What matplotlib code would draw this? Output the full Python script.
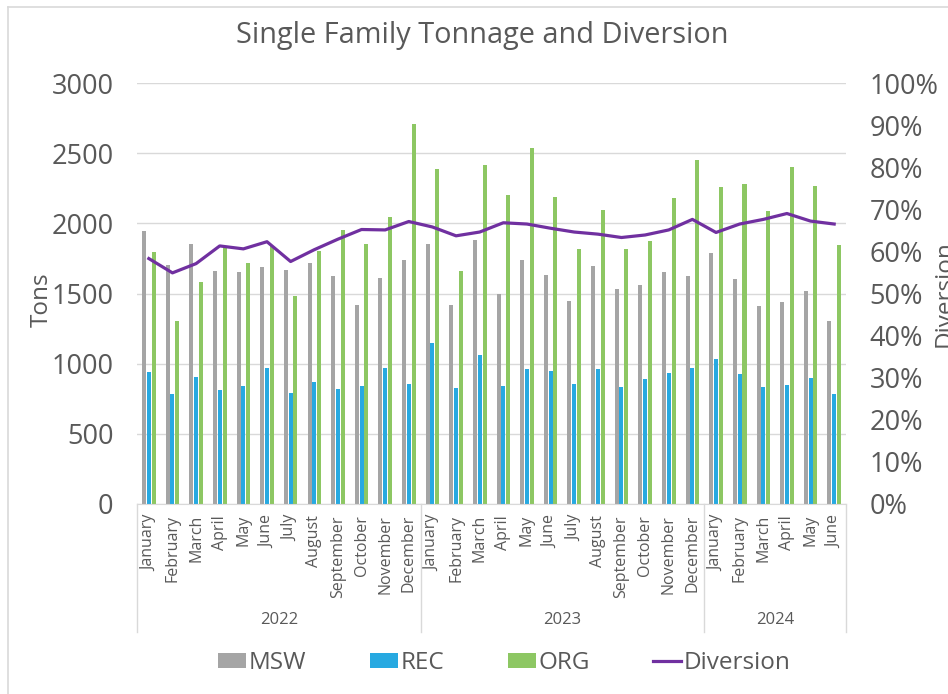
"""Single Family tonnage and diversion chart."""

import matplotlib.pyplot as plt
import numpy as np
from matplotlib.lines import Line2D
from matplotlib.ticker import FuncFormatter, MultipleLocator

plt.rcParams["font.family"] = ["Open Sans", "DejaVu Sans"]

MONTHS_FULL = ["January", "February", "March", "April", "May", "June",
               "July", "August", "September", "October", "November", "December"]
months = MONTHS_FULL * 2 + MONTHS_FULL[:6]
years = ["2022", "2023", "2024"]
year_lengths = [12, 12, 6]

msw = [1948, 1702, 1852, 1657, 1650, 1686, 1671, 1717, 1626, 1417, 1612, 1738,
       1852, 1417, 1881, 1500, 1738, 1633, 1448, 1693, 1529, 1560, 1650, 1626,
       1790, 1602, 1410, 1440, 1521, 1305]
rec = [940, 786, 905, 814, 838, 971, 790, 867, 821, 843, 969, 852,
       1148, 829, 1060, 843, 962, 945, 852, 962, 836, 888, 931, 969,
       1036, 924, 836, 850, 895, 783]
org = [1798, 1307, 1581, 1833, 1717, 1840, 1483, 1805, 1952, 1852, 2045, 2710,
       2388, 1657, 2417, 2200, 2538, 2188, 1819, 2095, 1819, 1871, 2179, 2448,
       2260, 2281, 2088, 2402, 2267, 1843]
diversion = [58.3, 54.9, 57.1, 61.3, 60.6, 62.3, 57.6, 60.4, 62.9, 65.2, 65.1, 67.1,
             65.8, 63.7, 64.6, 66.8, 66.5, 65.5, 64.6, 64.1, 63.3, 63.9, 65.1, 67.6,
             64.5, 66.5, 67.6, 69.0, 67.2, 66.5]

TEXT = "#595959"
GRID = "#D9D9D9"
C_MSW = "#A5A5A5"
C_REC = "#27A9E1"
C_ORG = "#8DC763"
C_DIV = "#7030A0"

W, H = 948, 694
fig = plt.figure(figsize=(W / 100, H / 100), dpi=100)
ax = fig.add_axes([137 / W, 1 - 504 / H, (846 - 137) / W, (504 - 83) / H])
ax2 = ax.twinx()

x = np.arange(len(months))
bw = 0.17
ax.bar(x - 0.2, msw, bw, color=C_MSW, label="MSW", zorder=2)
ax.bar(x, rec, bw, color=C_REC, label="REC", zorder=2)
ax.bar(x + 0.205, org, bw, color=C_ORG, label="ORG", zorder=2)
ax2.plot(x, np.array(diversion) / 100, color=C_DIV, lw=2.3, label="Diversion",
         solid_joinstyle="round")

ax.set_xlim(-0.5, len(months) - 0.5)
ax.set_ylim(0, 3000)
ax.yaxis.set_major_locator(MultipleLocator(500))
ax2.set_ylim(0, 1)
ax2.yaxis.set_major_locator(MultipleLocator(0.1))
ax2.yaxis.set_major_formatter(FuncFormatter(lambda v, _: f"{v * 100:.0f}%"))

ax.grid(axis="y", color=GRID, lw=1.0, zorder=0)
ax.set_axisbelow(True)
for a in (ax, ax2):
    for side in ("left", "right", "top"):
        a.spines[side].set_visible(False)
    a.spines["bottom"].set_color(GRID)
ax2.spines["bottom"].set_visible(False)

ax.tick_params(axis="y", length=0, pad=17, labelsize=19.5, labelcolor=TEXT)
ax2.tick_params(axis="y", length=0, pad=17, labelsize=19.5, labelcolor=TEXT)
ax.set_xticks(x)
ax.set_xticklabels(months, rotation=90, fontsize=11.5, color=TEXT)
ax.tick_params(axis="x", length=0, pad=8)

# year level of the category axis
edges = np.concatenate([[0], np.cumsum(year_lengths)]) - 0.5
for xe in edges:
    ax.plot([xe, xe], [0, -128 / 421], color=GRID, lw=1.0,
            transform=ax.get_xaxis_transform(), clip_on=False)
for yr, lo, hi in zip(years, edges[:-1], edges[1:]):
    ax.text((lo + hi) / 2, -116 / 421, yr, transform=ax.get_xaxis_transform(),
            ha="center", va="center", fontsize=12, color=TEXT)

fig.text(482.5 / W, 1 - 36 / H, "Single Family Tonnage and Diversion",
         ha="center", va="center", fontsize=20.8, color=TEXT)
fig.text(42 / W, 1 - 300 / H, "Tons", rotation=90, ha="center", va="center",
         fontsize=17.5, color=TEXT)
fig.text(933 / W, 1 - 294 / H, "Diversion", rotation=90, ha="left", va="center",
         fontsize=17.5, color=TEXT)

handles = [h for a in (ax, ax2) for h in a.get_legend_handles_labels()[0]]
labels = [l for a in (ax, ax2) for l in a.get_legend_handles_labels()[1]]
fig.legend(handles, labels, loc="center", bbox_to_anchor=(504.5 / W, 1 - 663 / H),
           ncol=4, frameon=False, fontsize=17.5, labelcolor=TEXT,
           handlelength=1.15, handleheight=0.55, handletextpad=0.12,
           columnspacing=2.6, borderaxespad=0)

# light frame of the chart area
fig.add_artist(Line2D([8 / W, 8 / W], [0, 1 - 7 / H], color=GRID, lw=1.2))
fig.add_artist(Line2D([8 / W, 1], [1 - 7 / H, 1 - 7 / H], color=GRID, lw=1.2))

fig.savefig("out.png", dpi=100)
